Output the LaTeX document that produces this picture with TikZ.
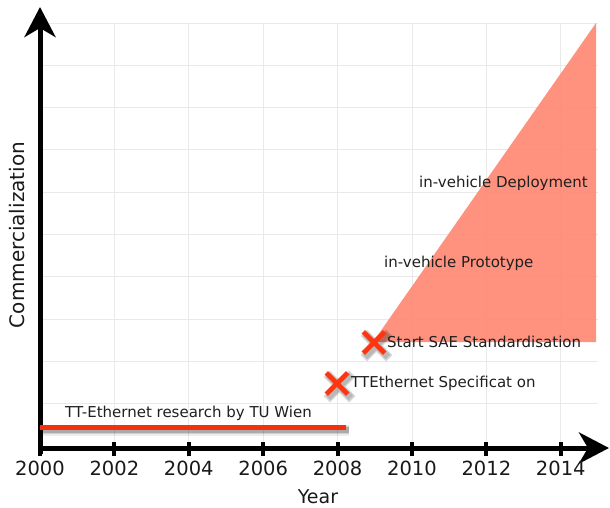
\documentclass[tikz,border=0pt]{standalone}
\usepackage{fontspec}
\setmainfont{DejaVu Sans}
\usetikzlibrary{arrows.meta,shapes.misc}

\definecolor{gridgray}{HTML}{E9E9E9}
\definecolor{salmon}{HTML}{FF8A74}
\definecolor{linered}{HTML}{F5300F}
\definecolor{markred}{HTML}{FF3510}

\tikzset{
  axis/.style={line width=5pt, -{Stealth[length=30pt, width=31pt, inset=9pt]}},
  tickmark/.style={line width=4pt},
  gridline/.style={draw=gridgray, line width=0.9pt},
  yearlabel/.style={font=\fontsize{19.5}{21}\selectfont, inner sep=0pt, text=black!90},
  event/.style={font=\fontsize{15}{17}\selectfont, anchor=west, inner sep=0pt, text=black!88},
  xmark/.style={cross out, draw=markred, line width=4.8pt, minimum size=16.5pt, inner sep=0pt},
  xshadow/.style={cross out, draw=black, draw opacity=0.15, line width=#1, minimum size=16.5pt, inner sep=0pt},
}

\begin{document}
\begin{tikzpicture}[x=1pt, y=-1pt]
  \useasboundingbox (0,0) rectangle (610,508);

  % background grid
  \foreach \k in {0,...,9}
    \draw[gridline] (41,23+42.3*\k) -- (598,23+42.3*\k);
  \foreach \k in {1,...,7}
    \draw[gridline] (40+74.4*\k,23) -- (40+74.4*\k,446);

  % growth area
  \fill[salmon, opacity=0.93] (373,342) -- (596,23) -- (596,342) -- cycle;

  % axes
  \coordinate (origin) at (40,448);
  \coordinate (ybottom) at (40,454);
  \coordinate (ytop) at (40,7);
  \coordinate (xend) at (609,448);
  \draw[axis] (origin) -- (xend);
  \draw[axis] (ybottom) -- (ytop);

  % ticks and year labels
  \foreach \k/\yr in {0/2000,1/2002,2/2004,3/2006,4/2008,5/2010,6/2012,7/2014} {
    \coordinate (t\yr) at (40+74.4*\k,448);
    \draw[tickmark] ([yshift=-8pt]t\yr) -- ([yshift=6pt]t\yr);
    \node[yearlabel] (l\yr) at (40+74.4*\k,468.5) {\yr};
  }

  \node[font=\fontsize{19}{21}\selectfont, inner sep=0pt, text=black!90] (xlabel) at (318,497) {Year};
  \node[font=\fontsize{20}{22}\selectfont, inner sep=0pt, rotate=90, text=black!90] (ylabel) at (17,235) {Commercialization};

  % research period
  \coordinate (rstart) at (40,427);
  \coordinate (rend) at (346,427);
  \foreach \w/\o in {11/0.07,8/0.12,6/0.18}
    \draw[line width=\w pt, black, opacity=\o] ([shift={(3,3)}]rstart) -- ([shift={(3,3)}]rend);
  \draw[line width=5pt, linered] (rstart) -- (rend);
  \node[event] (research) at (65,413) {TT-Ethernet research by TU Wien};

  % milestones
  \foreach \px/\py in {337/383.5, 374/342.5} {
    \node[xshadow=9pt] at (\px+2.5,\py+3) {};
    \node[xshadow=6.5pt] at (\px+2.5,\py+3) {};
  }
  \node[xmark] (spec) at (337,383.5) {};
  \node[xmark] (sae) at (374,342.5) {};
  \node[event] (speclabel) at (351,383) {TTEthernet Specificat on};
  \node[event] (saelabel) at (387,342) {Start SAE Standardisation};

  \node[event] (proto) at (384,263) {in-vehicle Prototype};
  \node[event] (deploy) at (419,183) {in-vehicle Deployment};
\end{tikzpicture}
\end{document}
